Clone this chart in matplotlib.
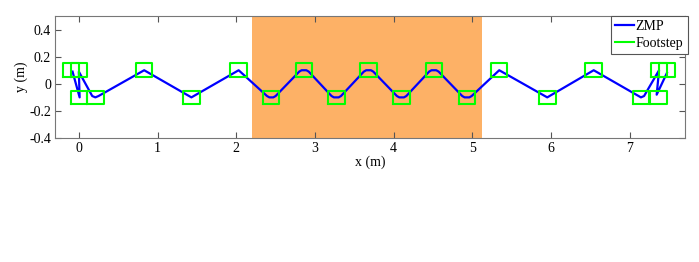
import numpy as np
import matplotlib.pyplot as plt

plt.rcParams['font.family'] = ['Liberation Serif', 'DejaVu Serif']

# footstep centres (m)
step_x = [-0.10, 0.00, 0.00, 0.21, 0.83, 1.43, 2.03, 2.44, 2.86, 3.27, 3.68,
          4.10, 4.51, 4.93, 5.34, 5.95, 6.54, 7.14, 7.36, 7.37, 7.47]
step_y = [0.10, 0.10, -0.10, -0.10, 0.10, -0.10, 0.10, -0.10, 0.10, -0.10, 0.10,
          -0.10, 0.10, -0.10, 0.10, -0.10, 0.10, -0.10, -0.10, 0.10, 0.10]
foot_len = 0.21
foot_wid = 0.10

# ZMP trajectory
zmp_x = [-0.08, 0.01, 0.00, 0.17, 0.21, 0.25, 0.83, 1.43, 2.03,
         2.39, 2.42, 2.47, 2.50, 2.80, 2.83, 2.89, 2.92,
         3.21, 3.24, 3.30, 3.33, 3.62, 3.65, 3.71, 3.74,
         4.04, 4.07, 4.13, 4.16, 4.45, 4.48, 4.54, 4.57,
         4.87, 4.90, 4.96, 4.99, 5.34, 5.95, 6.54,
         7.11, 7.14, 7.18, 7.37, 7.34, 7.47]
zmp_y = [0.09, -0.10, 0.09, -0.09, -0.10, -0.09, 0.10, -0.10, 0.10,
         -0.09, -0.10, -0.10, -0.09, 0.09, 0.10, 0.10, 0.09,
         -0.09, -0.10, -0.10, -0.09, 0.09, 0.10, 0.10, 0.09,
         -0.09, -0.10, -0.10, -0.09, 0.09, 0.10, 0.10, 0.09,
         -0.09, -0.10, -0.10, -0.09, 0.10, -0.10, 0.10,
         -0.09, -0.10, -0.09, 0.10, -0.08, 0.08]

# shaded terrain region
region = (2.2, 5.12)

fig = plt.figure(figsize=(6.99, 2.62), dpi=100)
ax = fig.add_axes([0.079, 0.473, 0.901, 0.466])

ax.axvspan(region[0], region[1], color='#FDB166', lw=0, zorder=0)

ax.plot(zmp_x, zmp_y, color='#0000FF', lw=1.6, label='ZMP', zorder=2)

for i, (cx, cy) in enumerate(zip(step_x, step_y)):
    bx = [cx - foot_len/2, cx + foot_len/2, cx + foot_len/2, cx - foot_len/2, cx - foot_len/2]
    by = [cy - foot_wid/2, cy - foot_wid/2, cy + foot_wid/2, cy + foot_wid/2, cy - foot_wid/2]
    ax.plot(bx, by, color='#00FF00', lw=1.5, zorder=3,
            label='Footstep' if i == 0 else None)

ax.set_xlim(-0.3, 7.7)
ax.set_ylim(-0.4, 0.5)
ax.set_xticks(range(0, 8))
ax.set_yticks([-0.4, -0.2, 0, 0.2, 0.4])
ax.set_yticklabels(['-0.4', '-0.2', '0', '0.2', '0.4'])
ax.tick_params(direction='in', top=True, right=True, labelsize=10,
               length=4, color='#555555', pad=3)
for s in ax.spines.values():
    s.set_color('#777777')
ax.set_xlabel('x (m)', fontsize=10, labelpad=0)
ax.set_ylabel('y (m)', fontsize=10, labelpad=1)

leg = ax.legend(loc='upper right', fontsize=10, borderaxespad=0, fancybox=False,
                handlelength=1.4, handletextpad=0.1, borderpad=0.3,
                labelspacing=0.3, framealpha=1, bbox_to_anchor=(1.004, 1.0))
leg.get_frame().set_edgecolor('#555555')
leg.get_frame().set_linewidth(0.8)

fig.savefig('out.png', dpi=100)
